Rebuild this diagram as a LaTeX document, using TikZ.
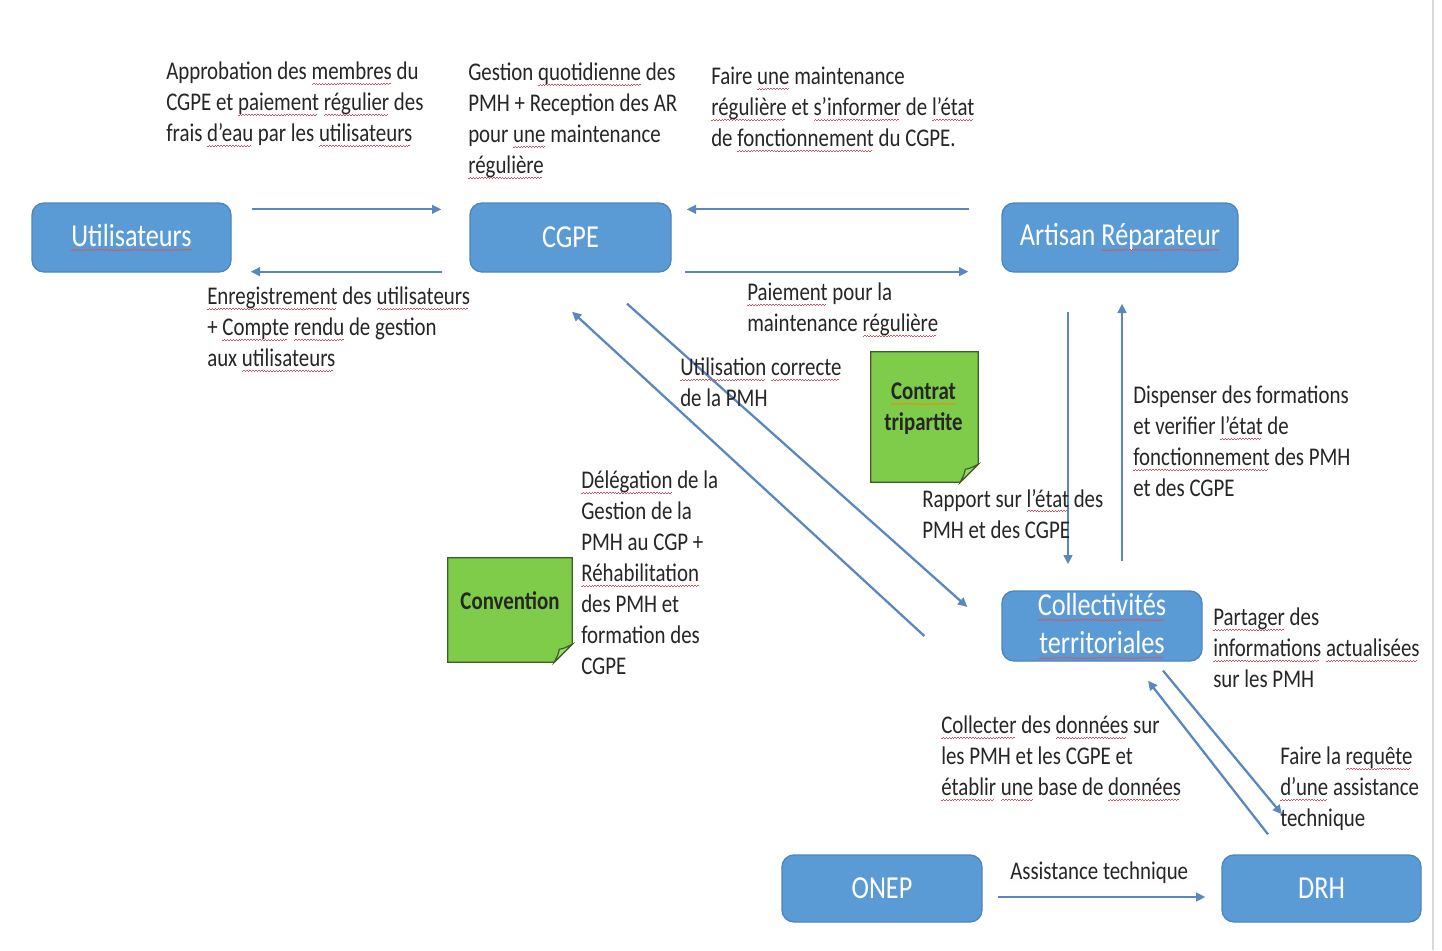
\documentclass[tikz,border=0pt]{standalone}
\usepackage{fontspec}
\setmainfont{Carlito}[FakeStretch=0.82]
\usetikzlibrary{calc,arrows.meta}
\definecolor{boxfill}{HTML}{5B9BD5}
\definecolor{boxline}{HTML}{4C86BE}
\definecolor{arrowc}{HTML}{5A87BD}
\definecolor{txt}{HTML}{262626}
\definecolor{notefill}{HTML}{7FCB4A}
\definecolor{noteline}{HTML}{3E5E26}
\definecolor{foldc}{HTML}{9BD873}
\definecolor{spell}{HTML}{D9535F}
\newcommand\wvr{\hbox{\textcolor{spell}{\rule[-3.6pt]{1.1pt}{0.55pt}\rule[-2.9pt]{1.1pt}{0.55pt}}}}
\newcommand\wvo{\hbox{\textcolor{orange}{\rule[-3.6pt]{1.1pt}{0.55pt}\rule[-2.9pt]{1.1pt}{0.55pt}}}}
\newcommand\sqw[1]{{\setbox0\hbox{#1}\rlap{\copy0}\hbox to\wd0{\leaders\wvr\hfill}}}
\newcommand\sqo[1]{{\setbox0\hbox{#1}\rlap{\copy0}\hbox to\wd0{\leaders\wvo\hfill}}}
\tikzset{
  ent/.style={draw=boxline, line width=1pt, fill=boxfill, rounded corners=9pt,
    text=white, font=\fontsize{24}{28.5}\selectfont, align=center, inner sep=0pt},
  lbl/.style={anchor=north west, inner sep=0pt, align=left, text=txt,
    font=\fontsize{19.1}{23.25}\selectfont, execute at begin node={\strut}},
  conn/.style={draw=arrowc, line width=1.7pt, -{Triangle[length=7pt,width=6.5pt]}},
  notebox/.style={inner sep=0pt, draw=none},
  notepath/.style={fill=notefill, draw=noteline, line width=0.9pt},
  notetxt/.style={inner sep=0pt, align=center, text=black!85,
    font=\bfseries\fontsize{19.1}{23.25}\selectfont},
}
\begin{document}
\begin{tikzpicture}[x=0.75pt, y=-0.75pt]
\useasboundingbox[fill=white] (0,0) rectangle (1442,950);
\draw[gray!30, line width=2pt] (1433,0) -- (1433,950);

% entities
\node[ent, minimum width=149.25pt, minimum height=51.75pt] (u) at (131.5,237.5) {\sqw{Utilisateurs}};
\node[ent, minimum width=150.75pt, minimum height=51.75pt] (c) at (570.5,237.5) {CGPE};
\node[ent, minimum width=177pt, minimum height=51.75pt] (a) at (1120,237.5) {Artisan \sqw{Réparateur}};
\node[ent, minimum width=150pt, minimum height=52.5pt] (k) at (1102,626) {\sqw{Collectivités}\\\sqw{territoriales}};
\node[ent, minimum width=150pt, minimum height=50.25pt] (o) at (882,888.5) {ONEP};
\node[ent, minimum width=149.25pt, minimum height=50.25pt] (d) at (1321.5,888.5) {DRH};

% notes
\node[notebox, minimum width=80.25pt, minimum height=97.5pt] (ct) at (924.5,417) {};
\path[notepath] (ct.north west) -- (ct.north east) -- ($(ct.south east)+(0,-18)$)
  -- ($(ct.south east)+(-18,0)$) -- (ct.south west) -- cycle;
\path[notepath, fill=foldc] ($(ct.south east)+(-18,0)$) .. controls ($(ct.south east)+(-14,-8)$) .. ($(ct.south east)+(-13,-13)$)
  .. controls ($(ct.south east)+(-8,-14)$) .. ($(ct.south east)+(0,-18)$) -- cycle;
\node[notetxt] (ctt) at ($(ct.center)+(-1,-8)$) {\sqo{Contrat}\\tripartite};

\node[notebox, minimum width=93pt, minimum height=78pt] (cv) at (510,610) {};
\path[notepath] (cv.north west) -- (cv.north east) -- ($(cv.south east)+(0,-18)$)
  -- ($(cv.south east)+(-18,0)$) -- (cv.south west) -- cycle;
\path[notepath, fill=foldc] ($(cv.south east)+(-18,0)$) .. controls ($(cv.south east)+(-14,-8)$) .. ($(cv.south east)+(-13,-13)$)
  .. controls ($(cv.south east)+(-8,-14)$) .. ($(cv.south east)+(0,-18)$) -- cycle;
\node[notetxt] (cvt) at ($(cv.center)+(0,-9)$) {Convention};

% connectors
\draw[conn] ($(u.north east)+(20,7)$) -- ($(c.north west)+(-28,7)$);
\draw[conn] ($(c.south west)+(-27,-1)$) -- ($(u.south east)+(19,-1)$);
\draw[conn] ($(a.north west)+(-32,7)$) -- ($(c.north east)+(15,7)$);
\draw[conn] ($(c.south east)+(13,-1)$) -- ($(a.south west)+(-33,-1)$);
\draw[conn] ($(c.south)+(56.5,31)$) -- ($(k.west)+(-34,-19)$);
\draw[conn] ($(k.west)+(-77,10)$) -- ($(c.south)+(1.5,39)$);
\draw[conn] ($(a.south)+(-52,39)$) -- ($(k.north)+(-34,-26)$);
\draw[conn] ($(k.north)+(20,-29)$) -- ($(a.south)+(2,31)$);
\draw[conn] ($(k.south)+(61,9)$) -- ($(d.north)+(-39.5,-40)$);
\draw[conn] ($(d.north)+(-53.5,-20)$) -- ($(k.south)+(46,19)$);
\draw[conn] ($(o.east)+(15,8.5)$) -- ($(d.west)+(-16,8.5)$);

% labels
\node[lbl] (l1) at (166,62) {Approbation des \sqw{membres} du\\CGPE et \sqw{paiement} \sqw{régulier} des\\frais \sqw{d’eau} par les \sqw{utilisateurs}};
\node[lbl] (l2) at (468,63) {Gestion \sqw{quotidienne} des\\PMH + Reception des AR\\pour \sqw{une} maintenance\\\sqw{régulière}};
\node[lbl] (l3) at (711,67) {Faire \sqw{une} maintenance\\\sqw{régulière} et \sqw{s’informer} de \sqw{l’état}\\de \sqw{fonctionnement} du CGPE.};
\node[lbl] (l4) at (207,287) {\sqw{Enregistrement} des \sqw{utilisateurs}\\+ \sqw{Compte} \sqw{rendu} de gestion\\aux \sqw{utilisateurs}};
\node[lbl] (l5) at (747,283) {\sqw{Paiement} pour la\\maintenance \sqw{régulière}};
\node[lbl] (l6) at (680,358) {\sqw{Utilisation} \sqw{correcte}\\de la PMH};
\node[lbl] (l7) at (581,471) {\sqw{Délégation} de la\\Gestion de la\\PMH au CGP +\\\sqw{Réhabilitation}\\des PMH et\\formation des\\CGPE};
\node[lbl] (l8) at (922,489) {Rapport sur \sqw{l’état} des\\PMH et des CGPE};
\node[lbl] (l9) at (1133,386) {Dispenser des formations\\et verifier \sqw{l’état} de\\\sqw{fonctionnement} des PMH\\et des CGPE};
\node[lbl] (l10) at (1213,608) {\sqw{Partager} des\\\sqw{informations} \sqw{actualisées}\\sur les PMH};
\node[lbl] (l11) at (941,716) {\sqw{Collecter} des \sqw{données} sur\\les PMH et les CGPE et\\\sqw{établir} \sqw{une} base de \sqw{données}};
\node[lbl] (l12) at (1280,747) {Faire la \sqw{requête}\\\sqw{d’une} assistance\\technique};
\node[lbl] (l13) at (1010,858) {Assistance technique};
\end{tikzpicture}
\end{document}
